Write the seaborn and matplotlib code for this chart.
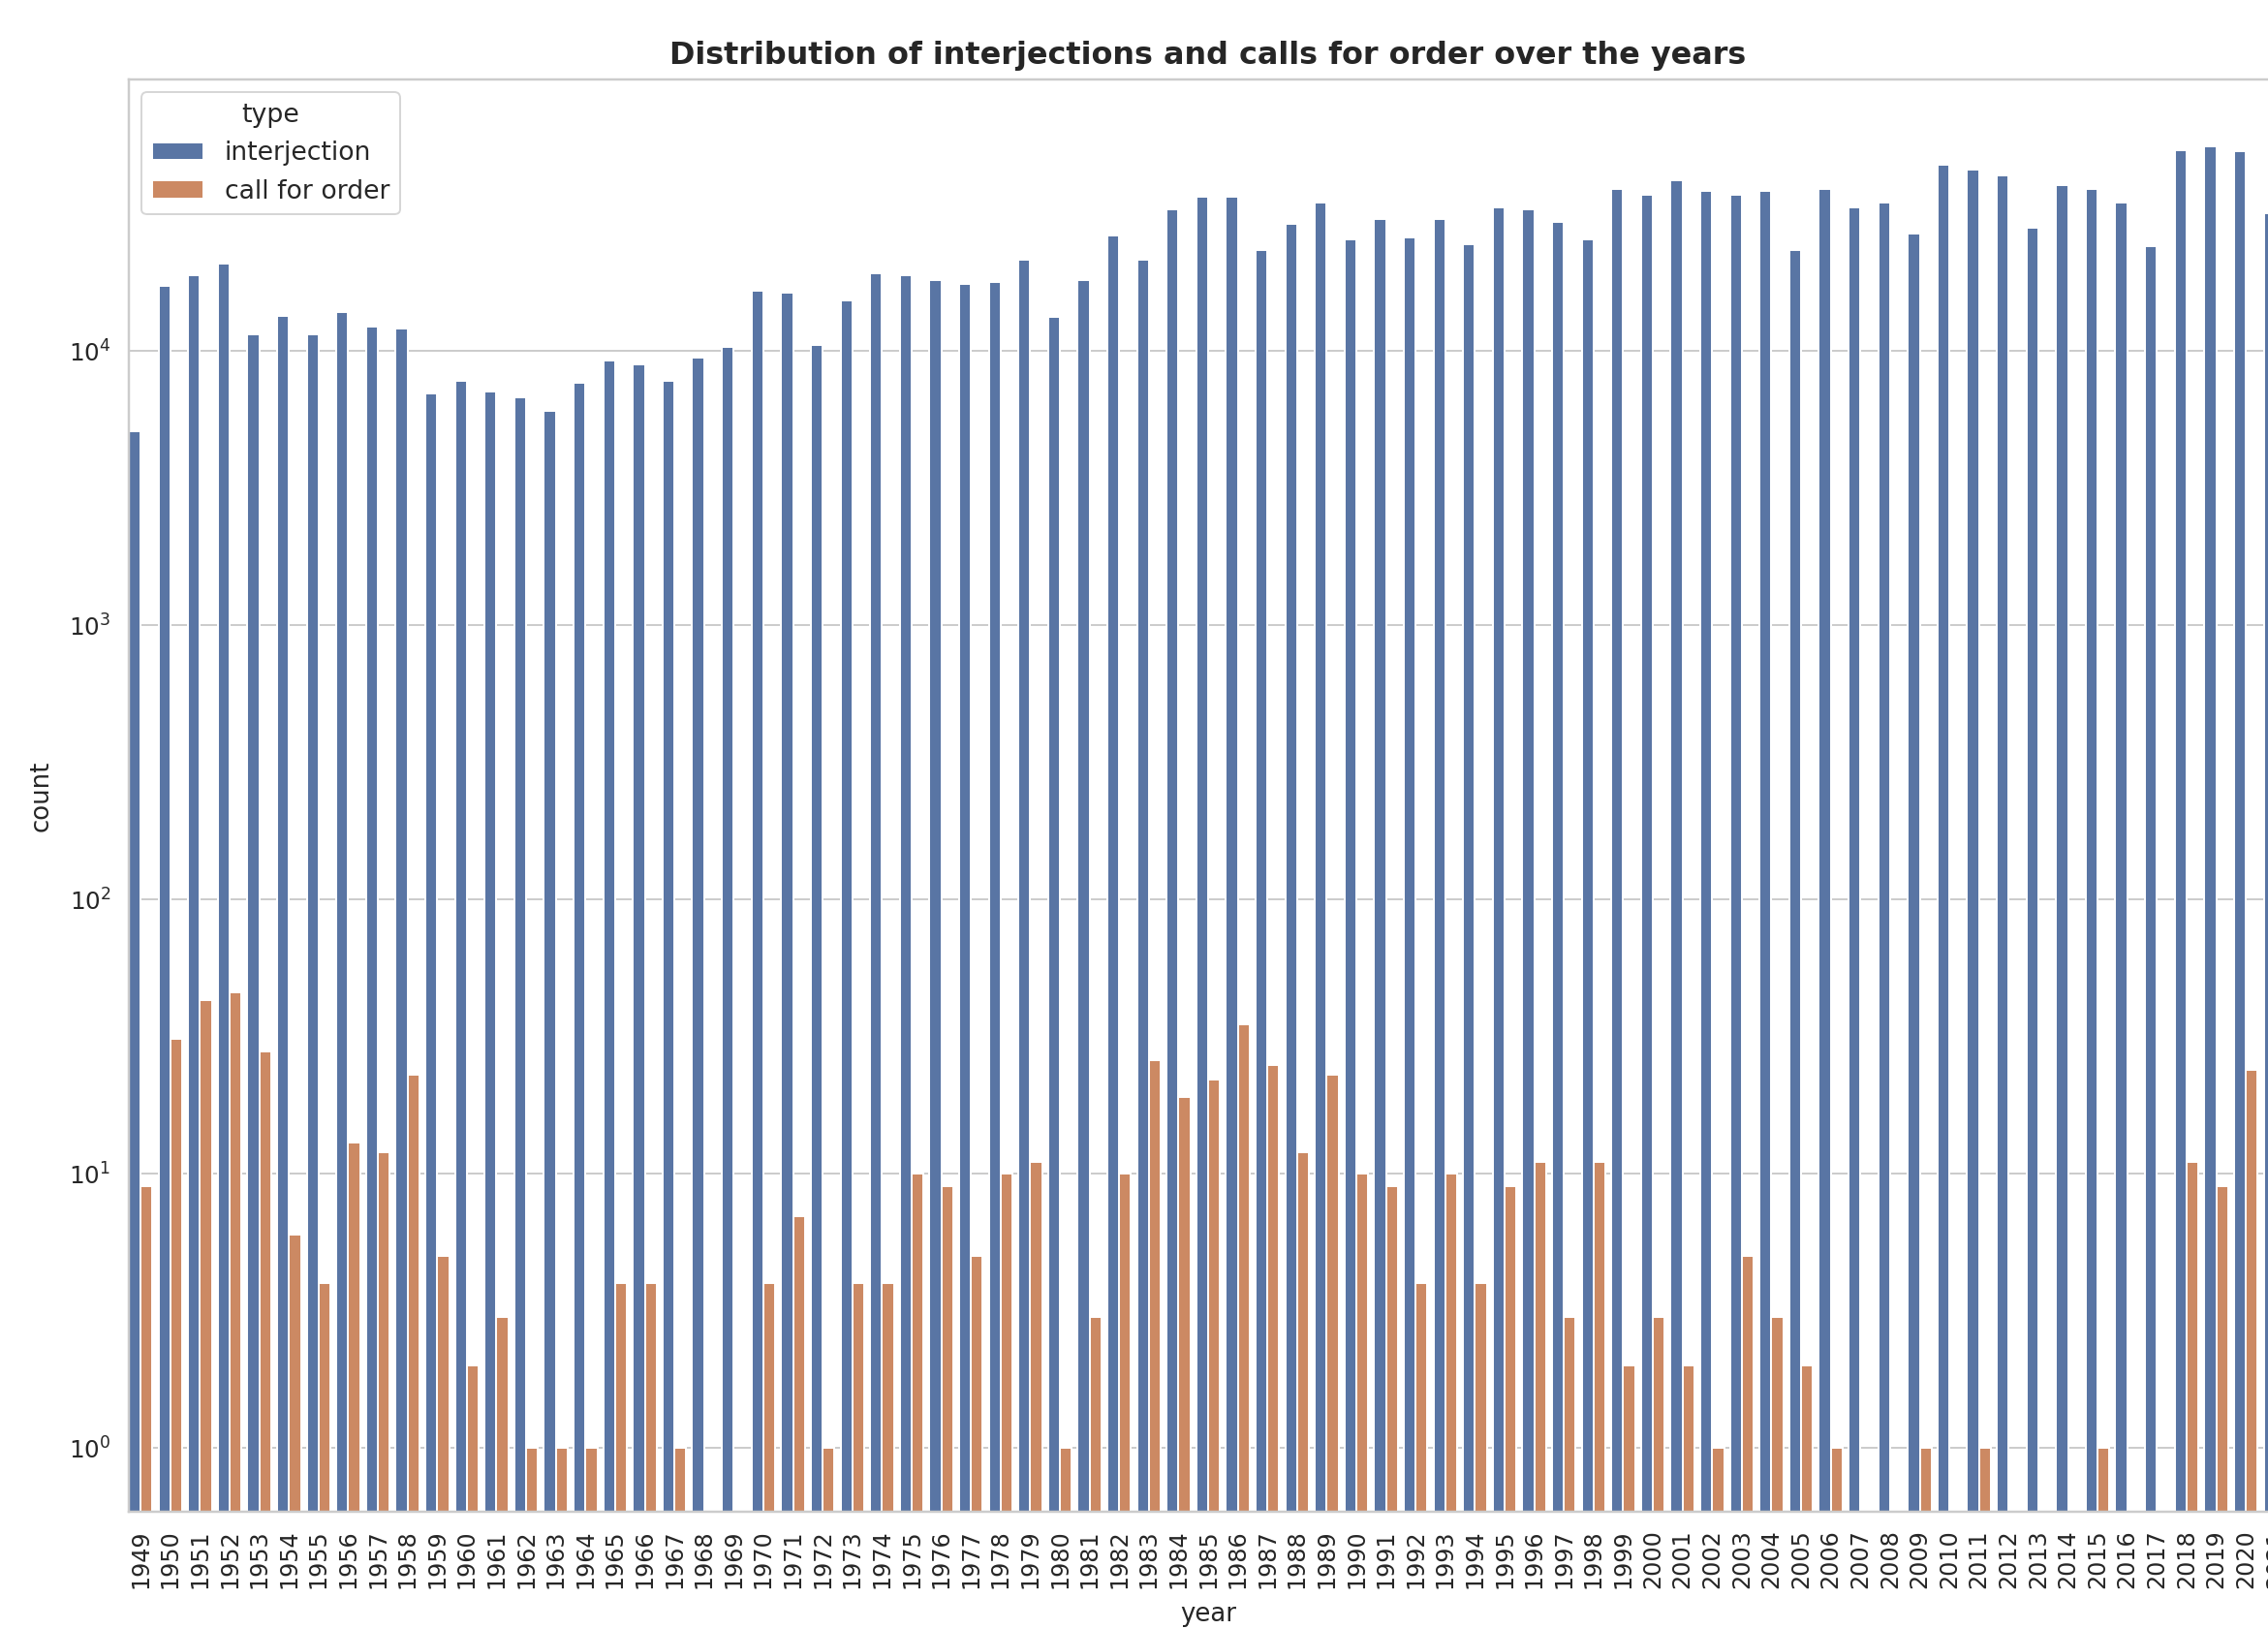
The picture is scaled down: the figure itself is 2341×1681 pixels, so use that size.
import numpy as np
import pandas as pd
import matplotlib
matplotlib.use("Agg")
import matplotlib.pyplot as plt
import seaborn as sns

years = [str(y) for y in range(1949, 2022)]

interjection = [
    5120, 17350, 19000, 20900, 11540, 13480, 11540, 13930, 12290, 12090,
    7000, 7800, 7110, 6765, 6070, 7690, 9270, 8990, 7800, 9450,
    10360, 16560, 16300, 10500, 15300, 19300, 19000, 18150, 17620, 17870,
    21620, 13300, 18150, 26420, 21620, 32960, 36740, 36740, 23390, 29040,
    35000, 25650, 30400, 26000, 30400, 24490, 33420, 32880, 29510, 25650,
    39000, 37240, 42200, 38390, 37240, 38390, 23390, 39000, 33420, 35000,
    26910, 47980, 45810, 43620, 28180, 40300, 39000, 35000, 24100, 54320,
    55990, 53480, 31920,
]

call_for_order = [
    9, 31, 43, 46, 28, 6, 4, 13, 12, 23,
    5, 2, 3, 1, 1, 1, 4, 4, 1, np.nan,
    np.nan, 4, 7, 1, 4, 4, 10, 9, 5, 10,
    11, 1, 3, 10, 26, 19, 22, 35, 25, 12,
    23, 10, 9, 4, 10, 4, 9, 11, 3, 11,
    2, 3, 2, 1, 5, 3, 2, 1, np.nan, np.nan,
    1, np.nan, 1, np.nan, np.nan, np.nan, 1, np.nan, np.nan, 11,
    9, 24, np.nan,
]

types = ["interjection", "call for order"]

df = pd.concat([
    pd.DataFrame({"year": years, "count": interjection, "type": types[0]}),
    pd.DataFrame({"year": years, "count": call_for_order, "type": types[1]}),
], ignore_index=True).dropna()

sns.set_theme(style="whitegrid")
plt.rcParams["font.family"] = ["DejaVu Sans"]

W, H = 2341, 1681
dpi = 141
fig = plt.figure(figsize=(W / dpi, H / dpi), dpi=dpi)
ax_left, ax_right, ax_top, ax_bottom = 133, 2361, 82, 1560
ax = fig.add_axes([ax_left / W, 1 - ax_bottom / H,
                   (ax_right - ax_left) / W, (ax_bottom - ax_top) / H])

sns.barplot(data=df, x="year", y="count", hue="type", order=years,
            hue_order=types, ax=ax)
ax.set_yscale("log")
ax.set_ylim(0.585, 98000)
ax.set_xlim(-0.4, len(years) - 0.6)
ax.tick_params(axis="x", rotation=90, labelsize=12.2)
ax.tick_params(axis="y", labelsize=12.6)
ax.set_xlabel("year", fontsize=13.3, labelpad=7)
ax.set_ylabel("count", fontsize=13.3, labelpad=8)
ax.set_title("Distribution of interjections and calls for order over the years",
             fontweight="bold", fontsize=16.3, pad=8)
ax.legend(title="type", loc="upper left", fontsize=13.6, title_fontsize=13.7)

fig.savefig("out.png", dpi=dpi)
